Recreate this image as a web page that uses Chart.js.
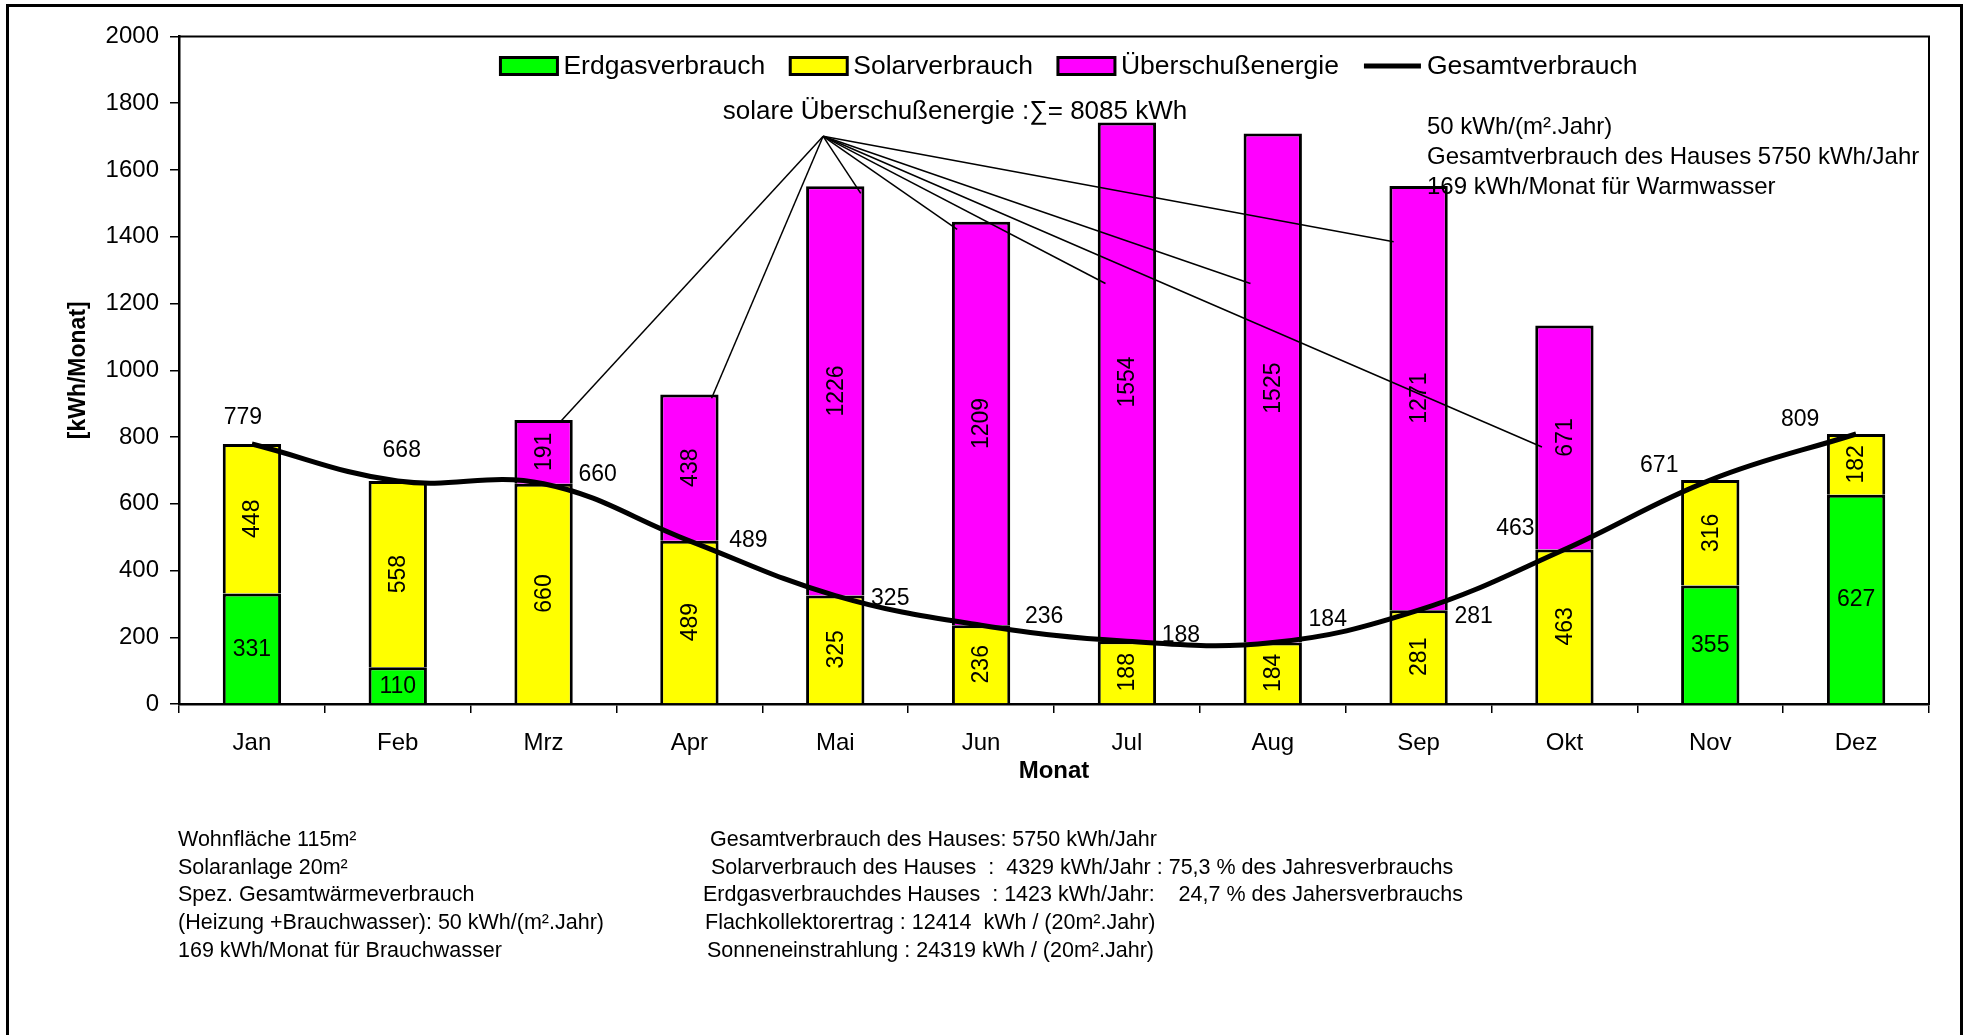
<!DOCTYPE html>
<html lang="de">
<head>
<meta charset="utf-8">
<title>Solaranlage – Energieverbrauch pro Monat</title>
<script src="https://cdn.jsdelivr.net/npm/chart.js@4/dist/chart.umd.min.js"></script>
<style>
  html, body { margin: 0; padding: 0; background: #fff; }
  #wrap { position: relative; width: 1968px; height: 1035px; overflow: hidden;
          font-family: "Liberation Sans", Arial, sans-serif; color: #000; }
  #frame { position: absolute; left: 6px; top: 4px; width: 1957px; height: 1100px;
           border: 3px solid #000; box-sizing: border-box; }
  #chartBox { position: absolute; left: 0; top: 0; width: 1968px; height: 1035px; }
  .note { position: absolute; font-size: 21.5px; line-height: 27.7px; white-space: pre; }
</style>
</head>
<body>
<div id="wrap">
  <div id="frame"></div>
  <div id="chartBox"><canvas id="energyChart"></canvas></div>

  <div class="note" style="left:178px; top:826px;">Wohnfläche 115m²
Solaranlage 20m²
Spez. Gesamtwärmeverbrauch
(Heizung +Brauchwasser): 50 kWh/(m².Jahr)
169 kWh/Monat für Brauchwasser</div>

  <div class="note" style="left:710px; top:826px;">Gesamtverbrauch des Hauses: 5750 kWh/Jahr</div>
  <div class="note" style="left:711px; top:853.7px;">Solarverbrauch des Hauses  :  4329 kWh/Jahr : 75,3 % des Jahresverbrauchs</div>
  <div class="note" style="left:703px; top:881.4px;">Erdgasverbrauchdes Hauses  : 1423 kWh/Jahr:    24,7 % des Jahersverbrauchs</div>
  <div class="note" style="left:705px; top:909.1px;">Flachkollektorertrag : 12414  kWh / (20m².Jahr)</div>
  <div class="note" style="left:707px; top:936.8px;">Sonneneinstrahlung : 24319 kWh / (20m².Jahr)</div>
</div>

<script>
/* ── Daten ─────────────────────────────────────────────────────────── */
const months    = ['Jan','Feb','Mrz','Apr','Mai','Jun','Jul','Aug','Sep','Okt','Nov','Dez'];
const erdgas    = [331, 110,   0,   0,    0,    0,    0,    0,    0,   0, 355, 627];
const solar     = [448, 558, 660, 489,  325,  236,  188,  184,  281, 463, 316, 182];
const ueberschuss = [0,   0, 191, 438, 1226, 1209, 1554, 1525, 1271, 671,   0,   0];
const gesamt    = [779, 668, 660, 489,  325,  236,  188,  184,  281, 463, 671, 809];
const yTicks    = [0, 200, 400, 600, 800, 1000, 1200, 1400, 1600, 1800, 2000];

// Leader lines of the "solare Überschußenergie" note: [category index, kWh]
const leaderOrigin  = [3.917, 1701];
const leaderTargets = [[2.115, 846], [3.152, 916], [4.175, 1530], [4.836, 1422],
                       [5.853, 1260], [6.847, 1260], [7.829, 1385], [8.846, 770]];

// Where each Gesamtverbrauch label sits relative to its point (px)
const totalLabelOffsets = [[-9,-26],[4,-30],[54,-9],[59,0],[55,3],[63,-9],
                           [54,-6],[55,-23],[55,6],[-49,-21],[-51,-14],[-56,-14]];

const FONT = '"Liberation Sans", Arial, sans-serif';

// ── Plot frame, legend, labels, notes ────────────────────────────────
const plotFrame = {
  id: 'plotFrame',
  beforeDatasetsDraw(chart) {
    const a = chart.chartArea, ctx = chart.ctx;
    ctx.save();
    ctx.strokeStyle = '#000';
    ctx.lineWidth = 2;
    ctx.strokeRect(a.left, a.top, a.right - a.left, a.bottom - a.top);
    ctx.restore();
  }
};

const legendRow = {
  id: 'legendRow',
  afterDraw(chart) {
    const ctx = chart.ctx, a = chart.chartArea;
    const ds = chart.data.datasets;
    ctx.save();
    ctx.font = '26.5px ' + FONT;
    ctx.textBaseline = 'middle';
    const boxW = 57, boxH = 17, gapText = 6, gapItem = 25;
    let total = 0;
    ds.forEach(function(d) { total += boxW + gapText + ctx.measureText(d.label).width; });
    total += gapItem * (ds.length - 1);
    let x = (a.left + a.right) / 2 - total / 2 + 15;
    const y = a.top + 29.5;
    ds.forEach(function(d) {
      if (d.type === 'line') {
        ctx.strokeStyle = d.borderColor;
        ctx.lineWidth = d.borderWidth;
        ctx.beginPath();
        ctx.moveTo(x, y);
        ctx.lineTo(x + boxW, y);
        ctx.stroke();
      } else {
        ctx.fillStyle = d.backgroundColor;
        ctx.fillRect(x, y - boxH / 2, boxW, boxH);
        ctx.strokeStyle = '#000';
        ctx.lineWidth = 3;
        ctx.strokeRect(x, y - boxH / 2, boxW, boxH);
      }
      ctx.fillStyle = '#000';
      ctx.textAlign = 'left';
      ctx.fillText(d.label, x + boxW + gapText, y + 1);
      x += boxW + gapText + ctx.measureText(d.label).width + gapItem;
    });
    ctx.restore();
  }
};

const valueLabels = {
  id: 'valueLabels',
  afterDatasetsDraw(chart) {
    const ctx = chart.ctx;
    const xs = chart.scales.x, ys = chart.scales.y;
    ctx.save();

    // leader lines
    ctx.strokeStyle = '#000';
    ctx.lineWidth = 1.5;
    const ox = xs.getPixelForValue(leaderOrigin[0]);
    const oy = ys.getPixelForValue(leaderOrigin[1]);
    leaderTargets.forEach(function(t) {
      ctx.beginPath();
      ctx.moveTo(ox, oy);
      ctx.lineTo(xs.getPixelForValue(t[0]), ys.getPixelForValue(t[1]));
      ctx.stroke();
    });

    ctx.fillStyle = '#000';
    ctx.font = '23px ' + FONT;
    ctx.textAlign = 'center';
    ctx.textBaseline = 'middle';

    chart.data.datasets.forEach(function(ds, di) {
      const meta = chart.getDatasetMeta(di);
      meta.data.forEach(function(el, i) {
        const v = ds.data[i];
        if (!v) return;
        const p = el.getProps(['x', 'y', 'base'], true);
        const txt = String(v);
        if (ds.type === 'line') {
          const off = totalLabelOffsets[i];
          ctx.fillText(txt, p.x + off[0], p.y + off[1]);
        } else if (ds.rotateLabels) {
          ctx.save();
          ctx.translate(p.x, (p.y + p.base) / 2);
          ctx.rotate(-Math.PI / 2);
          ctx.fillText(txt, 0, 1);
          ctx.restore();
        } else {
          ctx.fillText(txt, p.x, (p.y + p.base) / 2 + 1);
        }
      });
    });

    // notes inside the plot
    const a = chart.chartArea;
    ctx.font = '26px ' + FONT;
    ctx.textAlign = 'center';
    ctx.fillText('solare Überschußenergie :∑= 8085 kWh', a.left + 776, a.top + 75.5);
    ctx.font = '24px ' + FONT;
    ctx.textAlign = 'left';
    ctx.fillText('50 kWh/(m².Jahr)', a.left + 1248, a.top + 90.5);
    ctx.fillText('Gesamtverbrauch des Hauses 5750 kWh/Jahr', a.left + 1248, a.top + 120.5);
    ctx.fillText('169 kWh/Monat für Warmwasser', a.left + 1248, a.top + 150.5);
    ctx.restore();
  }
};

// ── Chart ────────────────────────────────────────────────────────────
const barStyle = { borderColor: '#000', borderWidth: 3, borderSkipped: 'start',
                   barPercentage: 0.5, categoryPercentage: 0.8, stack: 'monat', order: 1 };

new Chart(document.getElementById('energyChart'), {
  type: 'bar',
  data: {
    labels: months,
    datasets: [
      Object.assign({ label: 'Erdgasverbrauch', data: erdgas, backgroundColor: '#00ff00' }, barStyle),
      Object.assign({ label: 'Solarverbrauch', data: solar, backgroundColor: '#ffff00', rotateLabels: true }, barStyle),
      Object.assign({ label: 'Überschußenergie', data: ueberschuss, backgroundColor: '#ff00ff', rotateLabels: true }, barStyle),
      {
        type: 'line',
        label: 'Gesamtverbrauch',
        data: gesamt,
        borderColor: '#000',
        borderWidth: 5,
        pointRadius: 0,
        tension: 0.4,
        fill: false,
        stack: 'gesamt',
        order: 0
      }
    ]
  },
  options: {
    responsive: true,
    maintainAspectRatio: false,
    animation: false,
    layout: { padding: { left: 50, top: 36.5, right: 39, bottom: 249 } },
    plugins: {
      legend: { display: false },
      tooltip: { enabled: false }
    },
    scales: {
      x: {
        stacked: true,
        offset: true,
        ticks: { color: '#000', font: { family: FONT, size: 24 }, padding: 16 },
        grid: { drawOnChartArea: false, offset: true, color: '#000', tickLength: 9, lineWidth: 1.5 },
        border: { color: '#000', width: 2.5 },
        title: { display: true, text: 'Monat', color: '#000',
                 font: { family: FONT, size: 24, weight: 'bold' }, padding: 0 },
        afterFit: function(scale) { scale.height = 82; }
      },
      y: {
        stacked: true,
        min: 0,
        max: 2000,
        afterBuildTicks: function(scale) { scale.ticks = yTicks.map(function(v) { return { value: v }; }); },
        ticks: { color: '#000', font: { family: FONT, size: 24 }, padding: 11,
                 callback: function(v) { return String(v); } },
        grid: { drawOnChartArea: false, color: '#000', tickLength: 9, lineWidth: 1.5 },
        border: { color: '#000', width: 2.5 },
        title: { display: true, text: '[kWh/Monat]', color: '#000',
                 font: { family: FONT, size: 23, weight: 'bold' }, padding: { top: 15, bottom: 0 } },
        afterFit: function(scale) { scale.width = 129; }
      }
    }
  },
  plugins: [plotFrame, valueLabels, legendRow]
});
</script>
</body>
</html>
